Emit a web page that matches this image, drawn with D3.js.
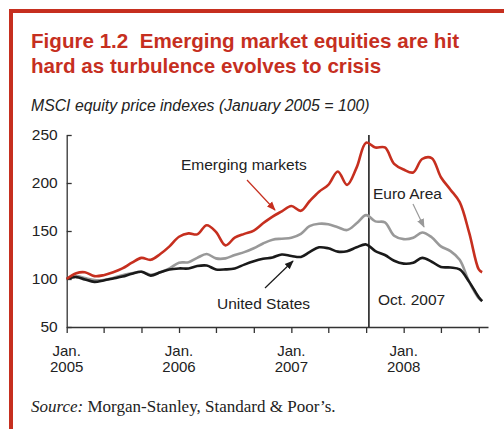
<!DOCTYPE html>
<html>
<head>
<meta charset="utf-8">
<script src="https://cdn.jsdelivr.net/npm/d3@7"></script>
<style>
  body { margin: 0; background: #fff; }
  svg { display: block; font-family: "Liberation Sans", Arial, Helvetica, sans-serif; }
</style>
</head>
<body>
<svg id="chart" width="504" height="429"></svg>
<script>
// monthly observations, Jan 2005 through Sep 2008, plus the last reading
var dates = [
  "2005-01-01", "2005-02-01", "2005-03-01", "2005-04-01", "2005-05-01", "2005-06-01",
  "2005-07-01", "2005-08-01", "2005-09-01", "2005-10-01", "2005-11-01", "2005-12-01",
  "2006-01-01", "2006-02-01", "2006-03-01", "2006-04-01", "2006-05-01", "2006-06-01",
  "2006-07-01", "2006-08-01", "2006-09-01", "2006-10-01", "2006-11-01", "2006-12-01",
  "2007-01-01", "2007-02-01", "2007-03-01", "2007-04-01", "2007-05-01", "2007-06-01",
  "2007-07-01", "2007-08-01", "2007-09-01", "2007-10-01", "2007-11-01", "2007-12-01",
  "2008-01-01", "2008-02-01", "2008-03-01", "2008-04-01", "2008-05-01", "2008-06-01",
  "2008-07-01", "2008-08-01", "2008-09-01", "2008-09-12"
];
var emergingMarkets = [
  100, 106, 107, 103, 104, 107, 111, 117, 122, 120, 126, 134,
  144, 147.5, 146.5, 156, 149, 135, 143, 147, 150.5, 158, 165, 170.5,
  176, 171, 181, 191, 198, 212, 198, 216, 242, 237, 237, 220,
  214, 211, 225, 226, 206, 193, 180, 148, 110, 107
];
var euroArea = [
  100, 103, 101, 99, 99, 101, 104, 106, 107.5, 104.5, 107, 111,
  117, 117.5, 122, 126, 121.5, 121.5, 125, 128, 132, 137, 141, 142,
  143, 147, 155, 157.5, 157, 154, 151, 158, 166.5, 160, 159, 145,
  141.5, 143, 148.5, 143.5, 134, 129, 120, 97, 80, 77
];
var unitedStates = [
  100, 102, 99.5, 97, 98.5, 100.5, 102.5, 105.5, 107.5, 103.5, 107, 110,
  111, 111, 113.5, 114, 110, 110, 111, 115, 118.5, 121, 122.5, 125.5,
  124, 123, 128, 133, 132, 128.5, 129, 133, 136, 129, 125, 119,
  116, 117, 122, 118, 112.5, 112, 110, 97, 81, 77
];
var yTicks = [50, 100, 150, 200, 250];
var markerDate = "2007-09-10";

var parseDate = d3.timeParse("%Y-%m-%d");
var red = "#c62f1f";

var svg = d3.select("#chart");

// red frame (top + left)
svg.append("path")
  .attr("d", "M11,429 L11,11 L504,11")
  .attr("fill", "none")
  .attr("stroke", red)
  .attr("stroke-width", 4);

// title
var title = svg.append("text")
  .attr("x", 31)
  .attr("fill", red)
  .style("font-weight", "bold")
  .style("font-size", "20.6px")
  .style("white-space", "pre");
title.append("tspan").attr("x", 31).attr("y", 48).text("Figure 1.2  Emerging market equities are hit");
title.append("tspan").attr("x", 31).attr("y", 73).text("hard as turbulence evolves to crisis");

svg.append("text")
  .attr("x", 31)
  .attr("y", 111)
  .style("font-style", "italic")
  .style("font-size", "15.8px")
  .attr("fill", "#222")
  .text("MSCI equity price indexes (January 2005 = 100)");

var xScale = d3.scaleTime()
  .domain([parseDate("2005-01-01"), parseDate("2008-10-01")])
  .range([66.7, 488]);

var yScale = d3.scaleLinear()
  .domain([50, 250])
  .range([327, 135]);

// y axis
var yAxis = svg.append("g")
  .attr("transform", "translate(66.7,0)")
  .call(d3.axisLeft(yScale).tickValues(yTicks).tickSizeInner(-5).tickSizeOuter(0).tickPadding(9));
yAxis.select(".domain").attr("stroke", "#333").attr("stroke-width", 1.3);
yAxis.selectAll(".tick line").attr("stroke", "#333").attr("stroke-width", 1.3);
yAxis.selectAll("text")
  .style("font-size", "15.5px")
  .style("font-family", "'Liberation Sans', Arial, sans-serif")
  .attr("fill", "#222");

// x axis
var xAxis = svg.append("g")
  .attr("transform", "translate(0,327)")
  .call(d3.axisBottom(xScale).ticks(d3.timeMonth.every(4)).tickSizeInner(6).tickSizeOuter(0).tickFormat(""));
xAxis.select(".domain").attr("stroke", "#333").attr("stroke-width", 1.3);
xAxis.selectAll(".tick line").attr("stroke", "#333").attr("stroke-width", 1.3);

var yearTicks = xScale.ticks(d3.timeYear.every(1)).filter(function (d) { return d < xScale.domain()[1]; });
var xLabels = svg.append("g");
xLabels.selectAll(".month-label")
  .data(yearTicks)
  .enter().append("text")
  .attr("class", "month-label")
  .attr("text-anchor", "middle")
  .attr("x", function (d) { return xScale(d); })
  .attr("y", 356)
  .style("font-size", "15px")
  .attr("fill", "#222")
  .text("Jan.");
xLabels.selectAll(".year-label")
  .data(yearTicks)
  .enter().append("text")
  .attr("class", "year-label")
  .attr("text-anchor", "middle")
  .attr("x", function (d) { return xScale(d); })
  .attr("y", 372)
  .style("font-size", "15px")
  .attr("fill", "#222")
  .text(function (d) { return d.getFullYear(); });

// Oct. 2007 marker
svg.append("line")
  .attr("x1", xScale(parseDate(markerDate)))
  .attr("x2", xScale(parseDate(markerDate)))
  .attr("y1", yScale(250))
  .attr("y2", yScale(50))
  .attr("stroke", "#222")
  .attr("stroke-width", 1.6);

// series
var series = [
  { name: "euro", values: euroArea, color: "#999999" },
  { name: "us", values: unitedStates, color: "#1a1a1a" },
  { name: "em", values: emergingMarkets, color: red }
];

var line = d3.line()
  .x(function (d, i) { return xScale(parseDate(dates[i])); })
  .y(function (d) { return yScale(d); })
  .curve(d3.curveCatmullRom.alpha(0.5));

svg.selectAll(".series")
  .data(series)
  .enter().append("path")
  .attr("class", "series")
  .attr("fill", "none")
  .attr("stroke", function (d) { return d.color; })
  .attr("stroke-width", 2.6)
  .attr("stroke-linejoin", "round")
  .attr("d", function (d) { return line(d.values); });

// annotations
var defs = svg.append("defs");
function arrowHead(id, color) {
  defs.append("marker")
    .attr("id", id)
    .attr("viewBox", "0 0 10 10")
    .attr("refX", 9)
    .attr("refY", 5)
    .attr("markerWidth", 9)
    .attr("markerHeight", 9)
    .attr("markerUnits", "userSpaceOnUse")
    .attr("orient", "auto")
    .append("path")
    .attr("d", "M0,1 L10,5 L0,9 Z")
    .attr("fill", color);
}
arrowHead("arrowRed", red);
arrowHead("arrowGray", "#999999");
arrowHead("arrowBlack", "#1a1a1a");

function label(x, y, text) {
  svg.append("text")
    .attr("x", x)
    .attr("y", y)
    .style("font-size", "15.5px")
    .attr("fill", "#222")
    .text(text);
}
function arrow(x1, y1, x2, y2, color, id) {
  svg.append("line")
    .attr("x1", x1).attr("y1", y1)
    .attr("x2", x2).attr("y2", y2)
    .attr("stroke", color)
    .attr("stroke-width", 1.2)
    .attr("marker-end", "url(#" + id + ")");
}

label(181, 170, "Emerging markets");
arrow(247, 180, 275, 210, red, "arrowRed");
label(373, 199, "Euro Area");
arrow(413, 204, 424, 227, "#999999", "arrowGray");
label(217, 309, "United States");
arrow(265, 288, 293, 261, "#1a1a1a", "arrowBlack");
label(378, 305, "Oct. 2007");

// source
var source = svg.append("text")
  .attr("x", 31)
  .attr("y", 412)
  .style("font-family", "'Liberation Serif', 'Times New Roman', serif")
  .style("font-size", "17px")
  .attr("fill", "#222");
source.append("tspan").style("font-style", "italic").text("Source:");
source.append("tspan").text(" Morgan-Stanley, Standard & Poor\u2019s.");
</script>
</body>
</html>
